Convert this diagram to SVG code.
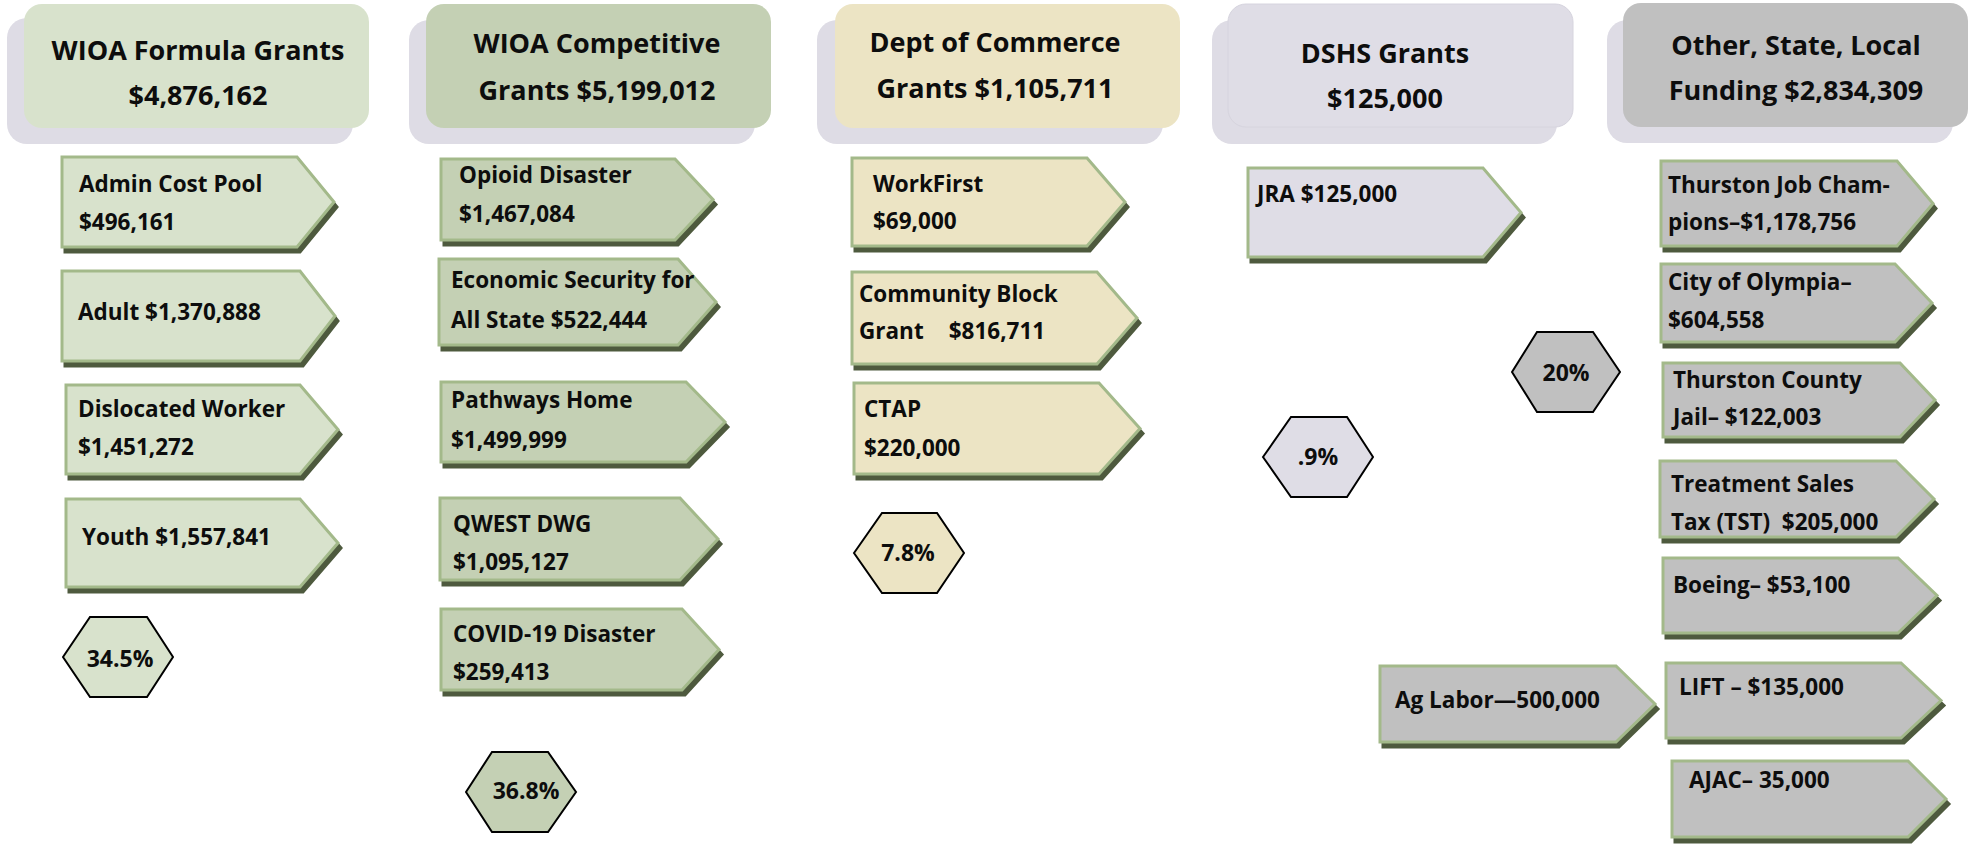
<svg xmlns="http://www.w3.org/2000/svg" width="1969" height="846" viewBox="0 0 1969 846">
  <style>
    text { font-family: "Open Sans", "Liberation Sans", sans-serif; font-weight: 700; fill: #0d0d0d; }
    .hdr { font-size: 27px; text-anchor: middle; }
    .lbl { font-size: 22.5px; }
    .pct { font-size: 23px; text-anchor: middle; }
    .hshadow { fill: #dedce5; }
    .tab { stroke: #a3b98a; stroke-width: 3; stroke-linejoin: miter; }
    .drop { fill: #4e5a3e; stroke: #4e5a3e; stroke-width: 3; }
    .hex { stroke: #000; stroke-width: 2; }
    .c1 { fill: #d8e2cc; }
    .c2 { fill: #c4d0b4; }
    .c3 { fill: #ece4c4; }
    .c4 { fill: #dfdde6; }
    .c5 { fill: #c0c0c0; }
  </style>
  <rect width="1969" height="846" fill="#ffffff"/>

  <!-- Column headers -->
  <g id="hdr-wioa-formula">
    <rect class="hshadow" x="7" y="18" width="346" height="126" rx="20"/>
    <rect class="c1" x="24" y="4" width="345" height="124" rx="18"/>
    <text class="hdr" x="198" y="60">WIOA Formula Grants</text>
    <text class="hdr" x="198" y="105">$4,876,162</text>
  </g>
  <g id="hdr-wioa-competitive">
    <rect class="hshadow" x="409" y="20" width="346" height="124" rx="20"/>
    <rect class="c2" x="426" y="4" width="345" height="124" rx="18"/>
    <text class="hdr" x="597" y="53">WIOA Competitive</text>
    <text class="hdr" x="597" y="100">Grants $5,199,012</text>
  </g>
  <g id="hdr-commerce">
    <rect class="hshadow" x="817" y="20" width="346" height="124" rx="20"/>
    <rect class="c3" x="835" y="4" width="345" height="124" rx="18"/>
    <text class="hdr" x="995" y="52">Dept of Commerce</text>
    <text class="hdr" x="995" y="98">Grants $1,105,711</text>
  </g>
  <g id="hdr-dshs">
    <rect class="hshadow" x="1212" y="20" width="345" height="124" rx="20"/>
    <rect class="c4" x="1228" y="4" width="345" height="123" rx="18" stroke="#d6d4de" stroke-width="1"/>
    <text class="hdr" x="1385" y="63">DSHS Grants</text>
    <text class="hdr" x="1385" y="108">$125,000</text>
  </g>
  <g id="hdr-other">
    <rect class="hshadow" x="1607" y="20" width="346" height="123" rx="20"/>
    <rect class="c5" x="1623" y="3" width="345" height="124" rx="18"/>
    <text class="hdr" x="1796" y="55">Other, State, Local</text>
    <text class="hdr" x="1796" y="100">Funding $2,834,309</text>
  </g>

  <!-- WIOA formula grant streams -->
  <g id="admin-cost-pool">
    <polygon class="drop" transform="translate(3,5)" points="62,157 297,157 334,202 297,247 62,247"/>
    <polygon class="tab c1" points="62,157 297,157 334,202 297,247 62,247"/>
    <text class="lbl" x="79" y="192">Admin Cost Pool</text>
    <text class="lbl" x="79" y="230">$496,161</text>
  </g>
  <g id="adult">
    <polygon class="drop" transform="translate(3,5)" points="62,271 300,271 335,316 300,361 62,361"/>
    <polygon class="tab c1" points="62,271 300,271 335,316 300,361 62,361"/>
    <text class="lbl" x="78" y="320">Adult $1,370,888</text>
  </g>
  <g id="dislocated-worker">
    <polygon class="drop" transform="translate(3,5)" points="66,385 300,385 338,429.5 300,474 66,474"/>
    <polygon class="tab c1" points="66,385 300,385 338,429.5 300,474 66,474"/>
    <text class="lbl" x="78" y="417">Dislocated Worker</text>
    <text class="lbl" x="78" y="455">$1,451,272</text>
  </g>
  <g id="youth">
    <polygon class="drop" transform="translate(3,5)" points="66,499 300,499 338,543 300,587 66,587"/>
    <polygon class="tab c1" points="66,499 300,499 338,543 300,587 66,587"/>
    <text class="lbl" x="82" y="545">Youth $1,557,841</text>
  </g>
  <g id="pct-formula">
    <polygon class="hex c1" points="63,657 90,617 147,617 173,657 147,697 90,697"/>
    <text class="pct" x="120" y="667">34.5%</text>
  </g>

  <!-- WIOA competitive grants -->
  <g id="opioid-disaster">
    <polygon class="drop" transform="translate(3,5)" points="441,159 675,159 713,199.5 675,240 441,240"/>
    <polygon class="tab c2" points="441,159 675,159 713,199.5 675,240 441,240"/>
    <text class="lbl" x="459" y="183">Opioid Disaster</text>
    <text class="lbl" x="459" y="222">$1,467,084</text>
  </g>
  <g id="economic-security">
    <polygon class="drop" transform="translate(3,5)" points="439,259 678,259 716,302 678,345 439,345"/>
    <polygon class="tab c2" points="439,259 678,259 716,302 678,345 439,345"/>
    <text class="lbl" x="451" y="288">Economic Security for</text>
    <text class="lbl" x="451" y="328">All State $522,444</text>
  </g>
  <g id="pathways-home">
    <polygon class="drop" transform="translate(3,5)" points="441,382 686,382 725,422 686,462 441,462"/>
    <polygon class="tab c2" points="441,382 686,382 725,422 686,462 441,462"/>
    <text class="lbl" x="451" y="408">Pathways Home</text>
    <text class="lbl" x="451" y="448">$1,499,999</text>
  </g>
  <g id="qwest-dwg">
    <polygon class="drop" transform="translate(3,5)" points="440,498 680,498 718,539 680,580 440,580"/>
    <polygon class="tab c2" points="440,498 680,498 718,539 680,580 440,580"/>
    <text class="lbl" x="453" y="532">QWEST DWG</text>
    <text class="lbl" x="453" y="570">$1,095,127</text>
  </g>
  <g id="covid-disaster">
    <polygon class="drop" transform="translate(3,5)" points="441,609 682,609 719,649.5 682,690 441,690"/>
    <polygon class="tab c2" points="441,609 682,609 719,649.5 682,690 441,690"/>
    <text class="lbl" x="453" y="642">COVID-19 Disaster</text>
    <text class="lbl" x="453" y="680">$259,413</text>
  </g>
  <g id="pct-competitive">
    <polygon class="hex c2" points="466,792 492,752 548,752 576,792 548,832 492,832"/>
    <text class="pct" x="526" y="799">36.8%</text>
  </g>

  <!-- Commerce grants -->
  <g id="workfirst">
    <polygon class="drop" transform="translate(3,5)" points="852,158 1087,158 1125,202 1087,246 852,246"/>
    <polygon class="tab c3" points="852,158 1087,158 1125,202 1087,246 852,246"/>
    <text class="lbl" x="873" y="192">WorkFirst</text>
    <text class="lbl" x="873" y="229">$69,000</text>
  </g>
  <g id="community-block">
    <polygon class="drop" transform="translate(3,5)" points="852,272 1097,272 1137,318 1097,364 852,364"/>
    <polygon class="tab c3" points="852,272 1097,272 1137,318 1097,364 852,364"/>
    <text class="lbl" x="859" y="302">Community Block</text>
    <text class="lbl" x="859" y="339" style="white-space:pre; word-spacing:2.5px">Grant   $816,711</text>
  </g>
  <g id="ctap">
    <polygon class="drop" transform="translate(3,5)" points="854,383 1099,383 1140,428.5 1099,474 854,474"/>
    <polygon class="tab c3" points="854,383 1099,383 1140,428.5 1099,474 854,474"/>
    <text class="lbl" x="864" y="417">CTAP</text>
    <text class="lbl" x="864" y="456">$220,000</text>
  </g>
  <g id="pct-commerce">
    <polygon class="hex c3" points="854,553 882,513 937,513 964,553 937,593 882,593"/>
    <text class="pct" x="908" y="561">7.8%</text>
  </g>

  <!-- DSHS grants -->
  <g id="jra">
    <polygon class="drop" transform="translate(3,5)" points="1248,168 1483,168 1521,212.5 1483,257 1248,257"/>
    <polygon class="tab c4" points="1248,168 1483,168 1521,212.5 1483,257 1248,257"/>
    <text class="lbl" x="1257" y="202">JRA $125,000</text>
  </g>
  <g id="pct-dshs">
    <polygon class="hex c4" points="1263,457 1291,417 1347,417 1373,457 1347,497 1291,497"/>
    <text class="pct" x="1318" y="465">.9%</text>
  </g>

  <!-- Other, state and local funding -->
  <g id="pct-other">
    <polygon class="hex c5" points="1512,372 1537,332 1593,332 1620,372 1593,412 1537,412"/>
    <text class="pct" x="1566" y="381">20%</text>
  </g>
  <g id="job-champions">
    <polygon class="drop" transform="translate(3,5)" points="1661,161 1897,161 1933,203.5 1897,246 1661,246"/>
    <polygon class="tab c5" points="1661,161 1897,161 1933,203.5 1897,246 1661,246"/>
    <text class="lbl" x="1668" y="193">Thurston Job Cham-</text>
    <text class="lbl" x="1668" y="230">pions–$1,178,756</text>
  </g>
  <g id="city-olympia">
    <polygon class="drop" transform="translate(3,5)" points="1661,264 1895,264 1932,303 1895,342 1661,342"/>
    <polygon class="tab c5" points="1661,264 1895,264 1932,303 1895,342 1661,342"/>
    <text class="lbl" x="1668" y="290">City of Olympia–</text>
    <text class="lbl" x="1668" y="328">$604,558</text>
  </g>
  <g id="county-jail">
    <polygon class="drop" transform="translate(3,5)" points="1663,363 1900,363 1935,400 1900,437 1663,437"/>
    <polygon class="tab c5" points="1663,363 1900,363 1935,400 1900,437 1663,437"/>
    <text class="lbl" x="1673" y="388">Thurston County</text>
    <text class="lbl" x="1673" y="425">Jail– $122,003</text>
  </g>
  <g id="treatment-sales-tax">
    <polygon class="drop" transform="translate(3,5)" points="1660,461 1896,461 1934,499 1896,537 1660,537"/>
    <polygon class="tab c5" points="1660,461 1896,461 1934,499 1896,537 1660,537"/>
    <text class="lbl" x="1671" y="492">Treatment Sales</text>
    <text class="lbl" x="1671" y="530" style="white-space:pre">Tax (TST)  $205,000</text>
  </g>
  <g id="boeing">
    <polygon class="drop" transform="translate(3,5)" points="1663,558 1898,558 1937,595.5 1898,633 1663,633"/>
    <polygon class="tab c5" points="1663,558 1898,558 1937,595.5 1898,633 1663,633"/>
    <text class="lbl" x="1673" y="593">Boeing– $53,100</text>
  </g>
  <g id="ag-labor">
    <polygon class="drop" transform="translate(3,5)" points="1380,666 1616,666 1655,704 1616,742 1380,742"/>
    <polygon class="tab c5" points="1380,666 1616,666 1655,704 1616,742 1380,742"/>
    <text class="lbl" x="1395" y="708">Ag Labor—500,000</text>
  </g>
  <g id="lift">
    <polygon class="drop" transform="translate(3,5)" points="1666,663 1901,663 1941,700.5 1901,738 1666,738"/>
    <polygon class="tab c5" points="1666,663 1901,663 1941,700.5 1901,738 1666,738"/>
    <text class="lbl" x="1679" y="695">LIFT – $135,000</text>
  </g>
  <g id="ajac">
    <polygon class="drop" transform="translate(3,5)" points="1672,761 1908,761 1946,799 1908,837 1672,837"/>
    <polygon class="tab c5" points="1672,761 1908,761 1946,799 1908,837 1672,837"/>
    <text class="lbl" x="1689" y="788">AJAC– 35,000</text>
  </g>
</svg>
